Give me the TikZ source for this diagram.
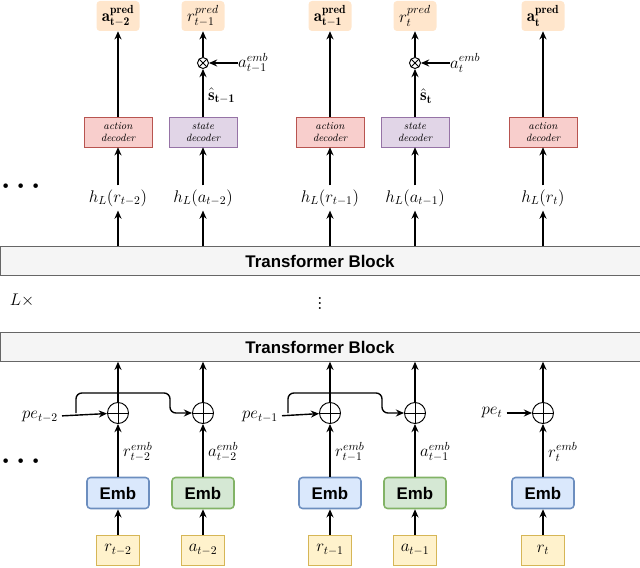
\documentclass[tikz,border=0pt]{standalone}
\usepackage{amsmath,amssymb}
\usepackage{fontspec}
\newfontfamily\sansb{Liberation Sans}
\usetikzlibrary{arrows.meta,calc}
\definecolor{inY}{HTML}{FFF2CC}\definecolor{inYd}{HTML}{D6B656}
\definecolor{emB}{HTML}{DAE8FC}\definecolor{emBd}{HTML}{6C8EBF}
\definecolor{emG}{HTML}{D5E8D4}\definecolor{emGd}{HTML}{82B366}
\definecolor{dcR}{HTML}{F8CECC}\definecolor{dcRd}{HTML}{B85450}
\definecolor{dcP}{HTML}{E1D5E7}\definecolor{dcPd}{HTML}{9673A6}
\definecolor{prO}{HTML}{FFE6CC}
\definecolor{tbG}{HTML}{F5F5F5}\definecolor{tbGd}{HTML}{666666}
\begin{document}
\begin{tikzpicture}[x=0.03cm,y=-0.03cm,font=\Large,
  inp/.style={draw=inYd,fill=inY,minimum width=43*0.03cm,minimum height=30*0.03cm,inner sep=0pt},
  emb/.style={draw=#1d,fill=#1,line width=1.3pt,rounded corners=3pt,minimum width=62*0.03cm,minimum height=31*0.03cm,font=\Large\sansb\bfseries,inner sep=0pt},
  dec/.style={draw=#1d,fill=#1,minimum width=68*0.03cm,minimum height=30*0.03cm,font=\small\itshape,align=center,inner sep=0pt,text depth=0pt},
  pred/.style={fill=prO,rounded corners=3pt,minimum width=43*0.03cm,minimum height=30*0.03cm,inner sep=1pt},
  blk/.style={draw=tbGd,fill=tbG,minimum width=640*0.03cm,minimum height=29*0.03cm,font=\Large\sansb\bfseries,inner sep=0pt},
  lbl/.style={anchor=west,inner sep=0pt},
  oplus/.style={circle,draw,thick,minimum size=21*0.03cm,inner sep=0pt,path picture={\draw[thick] (path picture bounding box.north)--(path picture bounding box.south) (path picture bounding box.west)--(path picture bounding box.east);}},
  otimes/.style={circle,draw,thick,minimum size=11*0.03cm,inner sep=0pt,path picture={\draw[thick] (path picture bounding box.north west)--(path picture bounding box.south east) (path picture bounding box.north east)--(path picture bounding box.south west);}},
  ar/.style={-{Stealth[length=7pt,width=6pt]},line width=1.2pt},
  dots/.style={font=\Huge\bfseries}]
\useasboundingbox (0,0) rectangle (640,568);
% blocks
\node[blk] (tb2) at (320,261) {Transformer Block};
\node[blk] (tb1) at (320,347) {Transformer Block};
\node[font=\huge] (vd) at (320,300) {$\vdots$};
\node (L) at (22,300) {$L\times$};
\node[dots] (dl1) at (24,187) {$\boldsymbol\cdots$};
\node[dots] (dl2) at (24,462) {$\boldsymbol\cdots$};
% inputs
\node[inp] (i1) at (118,550) {$r_{t-2}$};
\node[inp] (i2) at (203,550) {$a_{t-2}$};
\node[inp] (i3) at (330,550) {$r_{t-1}$};
\node[inp] (i4) at (415,550) {$a_{t-1}$};
\node[inp] (i5) at (543,550) {$r_{t}$};
\node[emb=emB] (e1) at (118,493) {Emb};
\node[emb=emG] (e2) at (203,493) {Emb};
\node[emb=emB] (e3) at (330,493) {Emb};
\node[emb=emG] (e4) at (415,493) {Emb};
\node[emb=emB] (e5) at (543,493) {Emb};
\foreach \k in {1,...,5} {
  \node[oplus] (p\k) at ($(e\k)+(0,-80)$) {};
  \draw[ar] (i\k) -- (e\k);
  \draw[ar] (e\k) -- (p\k);
  \draw[ar] (p\k) -- (p\k|-tb1.south);
}
\node[lbl] at (123,452) {$r^{emb}_{t-2}$};
\node[lbl] at (208,452) {$a^{emb}_{t-2}$};
\node[lbl] at (335,452) {$r^{emb}_{t-1}$};
\node[lbl] at (420,452) {$a^{emb}_{t-1}$};
\node[lbl] at (548,452) {$r^{emb}_{t}$};
\node (pe1) at (40,417) {$pe_{t-2}$};
\node (pe2) at (260,417) {$pe_{t-1}$};
\node (pe3) at (492,413) {$pe_{t}$};
\draw[ar] (pe1) -- (p1);
\draw[ar] (pe2) -- (p3);
\draw[ar] (pe3) -- (p5);
\draw[ar,rounded corners=5pt] (76,413) -- (76,393) -- (170,393) -- (170,413) -- (p2);
\draw[ar,rounded corners=5pt] (288,413) -- (288,393) -- (382,393) -- (382,413) -- (p4);
% outputs
\node (h1) at (118,198) {$h_L(r_{t-2})$};
\node (h2) at (203,198) {$h_L(a_{t-2})$};
\node (h3) at (330,198) {$h_L(r_{t-1})$};
\node (h4) at (415,198) {$h_L(a_{t-1})$};
\node (h5) at (543,198) {$h_L(r_{t})$};
\node[dec=dcR] (d1) at (118,132) {action\\[-1pt]decoder};
\node[dec=dcP] (d2) at (203,132) {state\\[-1pt]decoder};
\node[dec=dcR] (d3) at (330,132) {action\\[-1pt]decoder};
\node[dec=dcP] (d4) at (415,132) {state\\[-1pt]decoder};
\node[dec=dcR] (d5) at (543,132) {action\\[-1pt]decoder};
\foreach \k in {1,...,5} {
  \draw[ar] (h\k|-tb2.north) -- (h\k);
  \draw[ar] (h\k) -- (d\k);
}
\node[pred] (o1) at (118,16) {$\mathbf{a^{pred}_{t-2}}$};
\node[pred] (o2) at (203,16) {$r^{pred}_{t-1}$};
\node[pred] (o3) at (330,16) {$\mathbf{a^{pred}_{t-1}}$};
\node[pred] (o4) at (415,16) {$r^{pred}_{t}$};
\node[pred] (o5) at (543,16) {$\mathbf{a^{pred}_{t}}$};
\draw[ar] (d1) -- (o1);
\draw[ar] (d3) -- (o3);
\draw[ar] (d5) -- (o5);
\node[otimes] (x2) at (203,63) {};
\node[otimes] (x4) at (415,63) {};
\draw[ar] (d2) -- (x2);
\draw[ar] (d4) -- (x4);
\draw[ar] (x2) -- (o2);
\draw[ar] (x4) -- (o4);
\node[lbl] (s2) at (208,96) {$\hat{\mathbf{s}}_{\mathbf{t-1}}$};
\node[lbl] (s4) at (420,96) {$\hat{\mathbf{s}}_{\mathbf{t}}$};
\node[lbl] (ae2) at (238,63) {$a^{emb}_{t-1}$};
\node[lbl] (ae4) at (450,63) {$a^{emb}_{t}$};
\draw[ar] (ae2) -- (x2);
\draw[ar] (ae4) -- (x4);
\end{tikzpicture}
\end{document}
